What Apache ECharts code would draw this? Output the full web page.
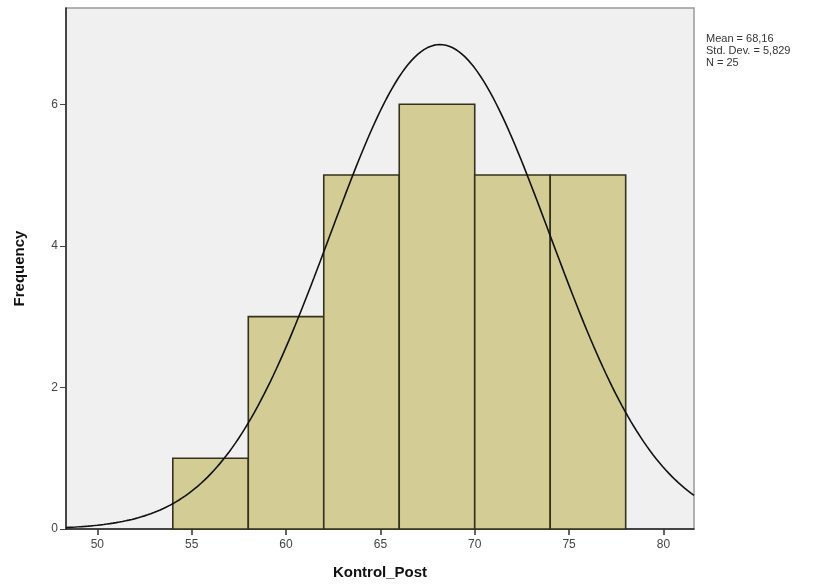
<!DOCTYPE html>
<html>
<head>
<meta charset="utf-8">
<script src="https://cdn.jsdelivr.net/npm/echarts@6/dist/echarts.min.js"></script>
<style>
  html, body { margin: 0; padding: 0; background: #ffffff; }
  #chart { width: 834px; height: 587px; }
</style>
</head>
<body>
<div id="chart"></div>
<script>
// Histogram bins of Kontrol_Post (lower edge of each bin) and their counts
const binStarts = [54, 58, 62, 66, 70, 74];
const binWidth = 4;
const frequencies = [1, 3, 5, 6, 5, 5];

// Summary statistics shown beside the plot
const mean = 68.16;
const stdDev = 5.829;
const n = 25;

// Axis ranges and tick labels
const xRange = [48.34, 81.62];
const xTicks = [50, 55, 60, 65, 70, 75, 80];
const yRange = [0, 7.36];
const yTicks = [0, 2, 4, 6];

// Rectangles for the histogram, one per bin
const barData = binStarts.map((s, i) => [s, s + binWidth, frequencies[i]]);

// Fitted normal curve scaled to counts: N * binWidth * pdf(x)
const curveData = [];
const steps = 200;
for (let i = 0; i <= steps; i++) {
  const x = xRange[0] + (xRange[1] - xRange[0]) * i / steps;
  const z = (x - mean) / stdDev;
  const y = n * binWidth * Math.exp(-0.5 * z * z) / (stdDev * Math.sqrt(2 * Math.PI));
  curveData.push([x, y]);
}

const chart = echarts.init(document.getElementById('chart'), null, { renderer: 'canvas' });

const labelFont = { fontFamily: 'Liberation Sans, Arial, sans-serif', fontSize: 12, color: '#444' };

chart.setOption({
  animation: false,
  backgroundColor: '#ffffff',
  grid: {
    left: 66, right: 140, top: 8, bottom: 58,
    show: true,
    backgroundColor: '#f0f0f0',
    borderColor: '#9a9a9a',
    borderWidth: 1.5
  },
  xAxis: {
    type: 'value',
    min: xRange[0],
    max: xRange[1],
    name: 'Kontrol_Post',
    nameLocation: 'middle',
    nameGap: 36,
    nameTextStyle: { fontFamily: 'Liberation Sans, Arial, sans-serif', fontSize: 15, fontWeight: 'bold', color: '#111' },
    axisLine: { show: true, lineStyle: { color: '#222', width: 1.5 } },
    axisTick: { show: true, length: 6, customValues: xTicks, lineStyle: { color: '#333', width: 1.5 } },
    axisLabel: Object.assign({ customValues: xTicks, margin: 10 }, labelFont),
    splitLine: { show: false }
  },
  yAxis: {
    type: 'value',
    min: yRange[0],
    max: yRange[1],
    name: 'Frequency',
    nameLocation: 'middle',
    nameGap: 39,
    nameRotate: 90,
    nameTextStyle: { fontFamily: 'Liberation Sans, Arial, sans-serif', fontSize: 15, fontWeight: 'bold', color: '#111' },
    axisLine: { show: true, lineStyle: { color: '#222', width: 1.5 } },
    axisTick: { show: true, length: 6, customValues: yTicks, lineStyle: { color: '#444', width: 1 } },
    axisLabel: Object.assign({ customValues: yTicks, margin: 8 }, labelFont),
    splitLine: { show: false }
  },
  series: [
    {
      type: 'custom',
      data: barData,
      encode: { x: [0, 1], y: 2 },
      renderItem: function (params, api) {
        const p0 = api.coord([api.value(0), api.value(2)]);
        const p1 = api.coord([api.value(1), 0]);
        return {
          type: 'rect',
          shape: { x: p0[0], y: p0[1], width: p1[0] - p0[0], height: p1[1] - p0[1] },
          style: { fill: '#d3cd95', stroke: '#33321f', lineWidth: 1.6 }
        };
      },
      z: 2
    },
    {
      type: 'line',
      data: curveData,
      showSymbol: false,
      smooth: false,
      clip: true,
      lineStyle: { color: '#111', width: 1.6 },
      z: 3
    }
  ],
  graphic: [
    {
      type: 'text',
      left: 706,
      top: 33,
      style: {
        text: 'Mean = ' + mean.toFixed(2).replace('.', ',') +
              '\nStd. Dev. = ' + stdDev.toFixed(3).replace('.', ',') +
              '\nN = ' + n,
        font: '11px Liberation Sans, Arial, sans-serif',
        lineHeight: 12,
        fill: '#333'
      }
    }
  ]
});
</script>
</body>
</html>
